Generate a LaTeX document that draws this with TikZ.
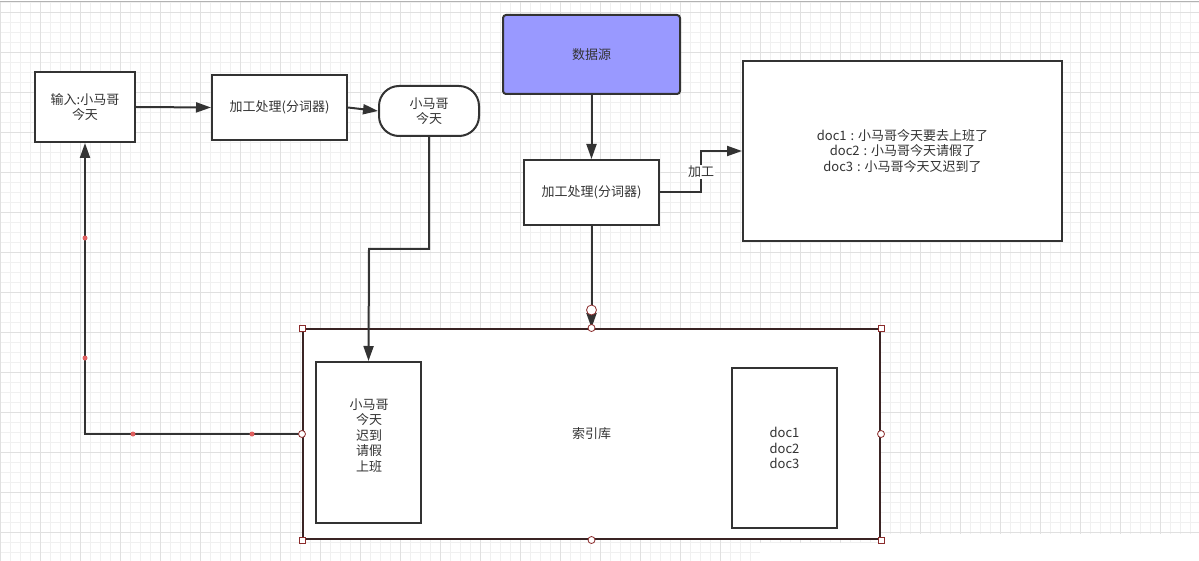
\documentclass[tikz,border=0pt]{standalone}
\usepackage{fontspec}
\setmainfont{Noto Sans CJK SC}
\usetikzlibrary{arrows.meta}
\definecolor{ln}{HTML}{333333}
\definecolor{txt}{HTML}{333333}
\definecolor{src}{HTML}{9999FF}
\definecolor{gminor}{HTML}{F0F0F0}
\definecolor{gmajor}{HTML}{E0E0E0}
\definecolor{sel}{HTML}{3A2424}
\definecolor{hdl}{HTML}{8B2C2C}
\definecolor{dot}{HTML}{E06060}
\newcommand{\dcolon}{\hspace{0.3em}:\hspace{0.3em}}
\tikzset{
  box/.style={draw=ln, line width=2pt, fill=white, align=center, inner sep=0pt, text=txt},
  outerbox/.style={draw=sel, line width=2pt, fill=white, align=center, inner sep=0pt, text=txt},
  arr/.style={draw=ln, line width=2pt, -{Triangle[length=15pt,width=10pt]}},
  lbl/.style={fill=white, inner sep=1pt, text=txt},
  plain/.style={align=center, inner sep=0pt, text=txt},
  sqh/.style={draw=hdl, line width=1pt, fill=white, minimum size=6pt, inner sep=0pt},
  cih/.style={draw=hdl, line width=0.8pt, fill=white, circle, minimum size=7pt, inner sep=0pt},
  cib/.style={draw=hdl, line width=0.8pt, fill=white, circle, minimum size=10pt, inner sep=0pt},
  rdot/.style={fill=dot, circle, minimum size=5pt, inner sep=0pt}
}
\begin{document}
\begin{tikzpicture}[x=1pt,y=-1pt,font=\fontsize{13}{15.6}\selectfont]
\useasboundingbox (0,0) rectangle (1199,561);
\fill[white] (0,0) rectangle (1199,561);
% grid
\foreach \i in {0,...,119} \draw[gminor, line width=1pt] ({0.7+10*\i},2) -- ({0.7+10*\i},561);
\foreach \i in {0,...,55} \draw[gminor, line width=1pt] (0,{2.7+10*\i}) -- (1199,{2.7+10*\i});
\foreach \i in {0,...,29} \draw[gmajor, line width=1pt] ({0.7+40*\i},2) -- ({0.7+40*\i},561);
\foreach \i in {0,...,13} \draw[gmajor, line width=1pt] (0,{12.7+40*\i}) -- (1199,{12.7+40*\i});
\fill[white] (760,543) rectangle (1199,561);
\fill[white] (882,534) rectangle (1199,561);
\draw[gray!60, line width=1.2pt] (0,1.2) -- (1199,1.2);

% nodes
\node[box, minimum width=100pt, minimum height=70pt] (in) at (85,107) {输入:小马哥\\今天};
\node[box, minimum width=135pt, minimum height=65pt] (p1) at (279.5,107.5) {加工处理(分词器)};
\node[box, rounded corners=20pt, minimum width=100pt, minimum height=50pt] (t) at (429,111) {小马哥\\今天};
\node[box, fill=src, rounded corners=3pt, minimum width=177pt, minimum height=79pt] (ds) at (591.5,54.5) {数据源};
\node[box, minimum width=135pt, minimum height=65pt] (p2) at (591.5,192.5) {加工处理(分词器)};
\node[box, minimum width=319pt, minimum height=180pt] (docs) at (902.5,151) {doc1\dcolon 小马哥今天要去上班了\\doc2\dcolon 小马哥今天请假了\\doc3\dcolon 小马哥今天又迟到了};
\node[outerbox, minimum width=577pt, minimum height=210pt] (idx) at (591.5,434) {索引库};
\node[box, minimum width=105pt, minimum height=161pt] (terms) at (368.5,442.5) {};
\node[plain] (termstxt) at (369,435.5) {小马哥\\今天\\迟到\\请假\\上班};
\node[box, minimum width=105pt, minimum height=160pt] (dl) at (784.5,448) {doc1\\doc2\\doc3};

% connectors
\coordinate (b1) at (429,249);
\coordinate (b2) at (369,249);
\coordinate (c1) at (701,172);
\coordinate (l1) at (85,434);
\draw[arr] (in.east) -- (p1.west);
\draw[arr] (p1.east) -- (t.west);
\draw[arr] (t.south) -- (b1) -- (b2) -- (terms.north);
\draw[arr] (ds.south) -- (p2.north);
\draw[arr] (p2.east) -| (c1) |- (docs.west);
\node[lbl] (lab) at (c1) {加工};
\draw[arr] (p2.south) -- (idx.north);
\draw[arr] (idx.west) -- (l1) -- (in.south);

% selection handles
\node[cib] (h0) at (591.5,310) {};
\node[sqh] (h1) at (idx.north west) {};
\node[sqh] (h2) at (idx.north east) {};
\node[sqh] (h3) at (idx.south west) {};
\node[sqh] (h4) at (idx.south east) {};
\node[cih] (h5) at (idx.north) {};
\node[cih] (h6) at (idx.south) {};
\node[cih] (h7) at (idx.west) {};
\node[cih] (h8) at (idx.east) {};
\node[rdot] (d1) at (85,238) {};
\node[rdot] (d2) at (85,358) {};
\node[rdot] (d3) at (133,434) {};
\node[rdot] (d4) at (252,434) {};
\end{tikzpicture}
\end{document}
